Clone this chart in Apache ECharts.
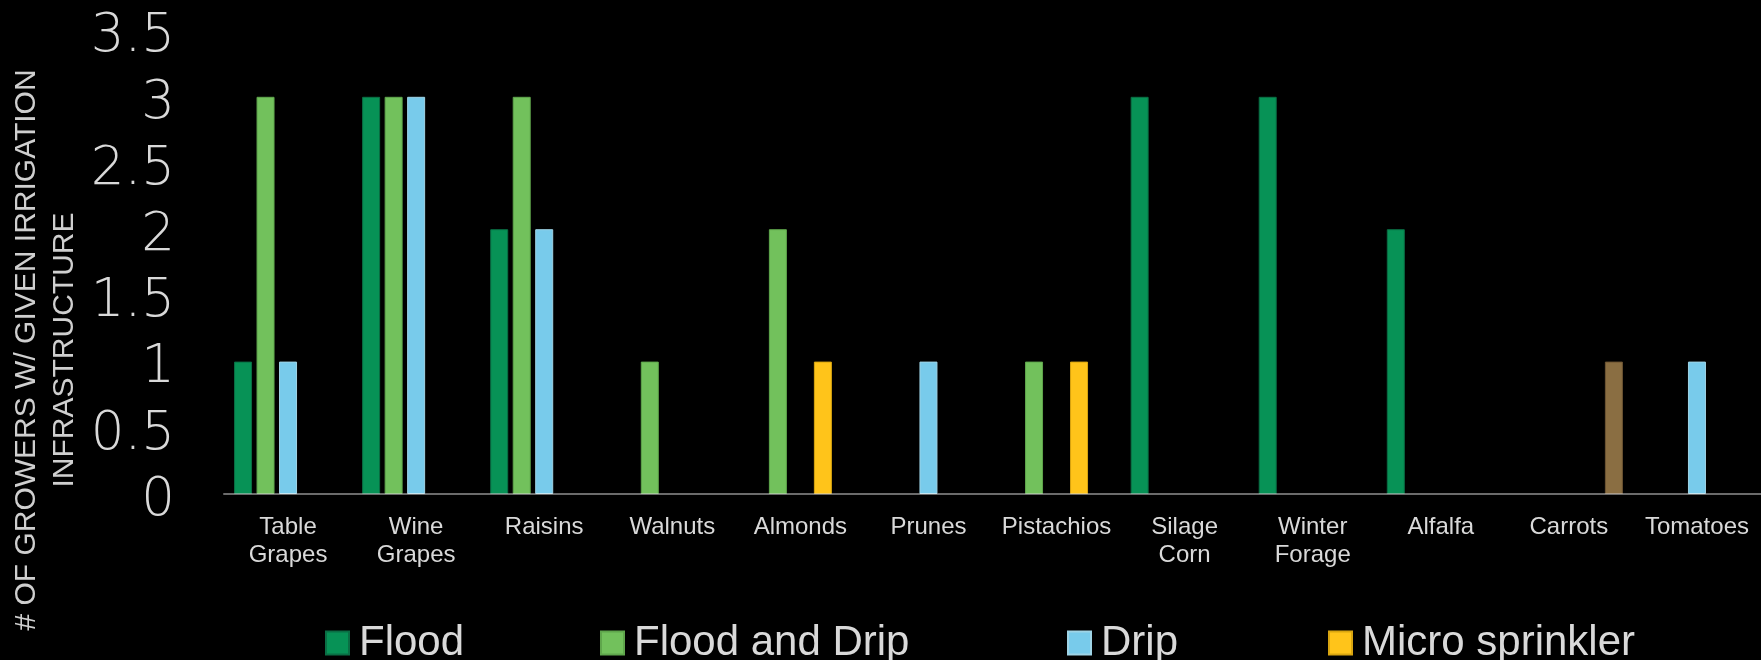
<!DOCTYPE html>
<html>
<head>
<meta charset="utf-8">
<script src="https://cdn.jsdelivr.net/npm/echarts@6/dist/echarts.min.js"></script>
<style>
html,body{margin:0;padding:0;background:#000;}
#chart{width:1761px;height:660px;}
</style>
</head>
<body>
<div id="chart"></div>
<script>
var categories = ['Table\nGrapes','Wine\nGrapes','Raisins','Walnuts','Almonds','Prunes','Pistachios','Silage\nCorn','Winter\nForage','Alfalfa','Carrots','Tomatoes'];
var flood        = [1, 3, 2, '-', '-', '-', '-', 3, 3, 2, '-', '-'];
var floodAndDrip = [3, 3, 3, 1, 2, '-', 1, '-', '-', '-', '-', '-'];
var drip         = [1, 3, 2, '-', '-', 1, '-', '-', '-', '-', '-', 1];
var microSprink  = ['-', '-', '-', '-', 1, '-', 1, '-', '-', '-', '-', '-'];
var sprinkler    = ['-', '-', '-', '-', '-', '-', '-', '-', '-', '-', 1, '-'];
var seriesNames  = ['Flood', 'Flood and Drip', 'Drip', 'Micro sprinkler', 'Sprinkler'];
var yTitle = '# OF GROWERS W/ GIVEN IRRIGATION\nINFRASTRUCTURE';

var colors = ['#079256', '#72C15C', '#78CBEB', '#FFC41A', '#8A6E42'];
var borders = ['#0a6e44', '#5fa64c', '#9fd4e6', '#d9a510', '#6e5533'];
var dataSets = [flood, floodAndDrip, drip, microSprink, sprinkler];

var chart = echarts.init(document.getElementById('chart'));
var legendLeft = [320, 595, 1062, 1323];
var legends = legendLeft.map(function (l, i) {
  return {
    left: l, top: 617, orient: 'horizontal',
    data: [seriesNames[i]],
    itemWidth: 23, itemHeight: 23, icon: 'rect',
    selectedMode: false,
    textStyle: { color: '#d9d9d9', fontSize: 42, lineHeight: 42, fontFamily: 'Liberation Sans, Arial, sans-serif', padding: [0,0,0,5] }
  };
});

chart.setOption({
  backgroundColor: '#000000',
  animation: false,
  grid: { left: 224, right: -4, top: 30.6, bottom: 166, containLabel: false },
  legend: legends,
  graphic: [{
    type: 'text',
    x: 46, y: 350,
    rotation: Math.PI / 2,
    style: {
      text: yTitle,
      fill: '#cfcfcf',
      font: '30px "Liberation Sans", Arial, sans-serif',
      align: 'center',
      verticalAlign: 'middle',
      lineHeight: 38
    }
  }],
  xAxis: {
    type: 'category',
    data: categories,
    z: 5,
    axisLine: { show: true, lineStyle: { color: 'rgba(255,255,255,0.42)', width: 2 } },
    axisTick: { show: false },
    axisLabel: {
      interval: 0, margin: 19, color: '#d9d9d9', fontSize: 24, lineHeight: 28,
      fontFamily: 'Liberation Sans, Arial, sans-serif', align: 'center'
    }
  },
  yAxis: {
    type: 'value', min: 0, max: 3.5, interval: 0.5,
    axisLine: { show: false }, axisTick: { show: false }, splitLine: { show: false },
    axisLabel: { color: '#d9d9d9', fontSize: 53, margin: 49, verticalAlign: 'top', lineHeight: 14, fontFamily: 'DejaVu Sans, sans-serif', fontWeight: 200 }
  },
  series: dataSets.map(function (d, i) {
    return {
      name: seriesNames[i], type: 'bar', data: d,
      barWidth: 18, barGap: '25%',
      itemStyle: { color: colors[i], borderColor: borders[i], borderWidth: 1 }
    };
  })
});
</script>
</body>
</html>
